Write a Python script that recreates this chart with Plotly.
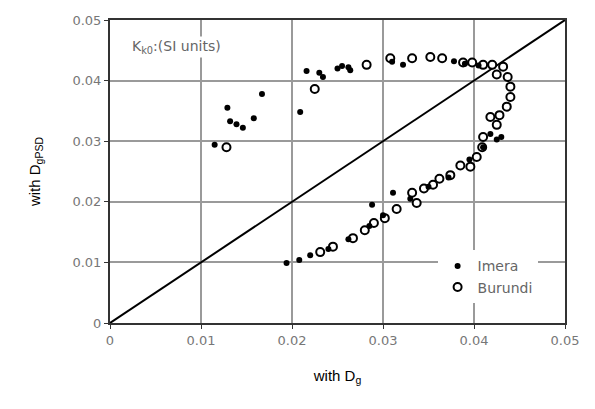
import plotly.graph_objects as go

imera_x = [0.0115, 0.0129, 0.0132, 0.0139, 0.0146, 0.0158, 0.0167, 0.0209, 0.0216, 0.0234, 0.0230,
           0.0250, 0.0255, 0.0264, 0.0262, 0.0322, 0.0310, 0.0378, 0.0390, 0.0405, 0.0430, 0.0425,
           0.0418, 0.0288, 0.0311, 0.0194, 0.0208, 0.0220, 0.0240, 0.0262, 0.0285, 0.0300, 0.0330,
           0.0350, 0.0372, 0.0395, 0.0410]
imera_y = [0.0294, 0.0355, 0.0333, 0.0328, 0.0322, 0.0338, 0.0378, 0.0348, 0.0416, 0.0406, 0.0413,
           0.0420, 0.0424, 0.0417, 0.0422, 0.0426, 0.0431, 0.0432, 0.0428, 0.0425, 0.0307, 0.0303,
           0.0312, 0.0195, 0.0215, 0.0099, 0.0104, 0.0112, 0.0122, 0.0138, 0.0160, 0.0178, 0.0205,
           0.0225, 0.0240, 0.0270, 0.0290]

burundi_x = [0.0128, 0.0225, 0.0282, 0.0308, 0.0332, 0.0352, 0.0365, 0.0388, 0.0398, 0.0410, 0.0420,
             0.0432, 0.0425, 0.0437, 0.0440, 0.0440, 0.0436, 0.0418, 0.0428, 0.0425, 0.0410, 0.0409,
             0.0403, 0.0396, 0.0385, 0.0374, 0.0362, 0.0355, 0.0345, 0.0337, 0.0332, 0.0315, 0.0302,
             0.0290, 0.0280, 0.0267, 0.0245, 0.0231]
burundi_y = [0.0290, 0.0386, 0.0426, 0.0437, 0.0437, 0.0439, 0.0437, 0.0430, 0.0430, 0.0426, 0.0426,
             0.0423, 0.0410, 0.0406, 0.0390, 0.0373, 0.0357, 0.0340, 0.0343, 0.0327, 0.0307, 0.0290,
             0.0274, 0.0258, 0.0260, 0.0244, 0.0238, 0.0228, 0.0222, 0.0198, 0.0215, 0.0188, 0.0173,
             0.0165, 0.0153, 0.0140, 0.0126, 0.0117]

line_x = [0, 0.05]
line_y = [0, 0.05]

tick_vals = [0, 0.01, 0.02, 0.03, 0.04, 0.05]
tick_text = ["0", "0.01", "0.02", "0.03", "0.04", "0.05"]

fig = go.Figure()
fig.add_trace(go.Scatter(x=line_x, y=line_y, mode="lines", line=dict(color="black", width=2),
                         showlegend=False, hoverinfo="skip"))
fig.add_trace(go.Scatter(x=burundi_x, y=burundi_y, mode="markers", name="Burundi",
                         marker=dict(symbol="circle", size=8, color="white",
                                     line=dict(color="black", width=2))))
fig.add_trace(go.Scatter(x=imera_x, y=imera_y, mode="markers", name="Imera",
                         marker=dict(symbol="circle", size=6, color="black")))

axis_common = dict(
    range=[0, 0.05], tickvals=tick_vals, ticktext=tick_text,
    showgrid=True, gridcolor="#9a9a9a", gridwidth=2,
    showline=True, linecolor="#333333", linewidth=2, mirror=True,
    ticks="outside", ticklen=4, tickcolor="#333333", tickwidth=1,
    zeroline=False,
    tickfont=dict(family="DejaVu Sans", size=13, color="#777777"),
)

fig.update_layout(
    width=595, height=409,
    margin=dict(l=110, r=30, t=20, b=86),
    paper_bgcolor="white", plot_bgcolor="white",
    xaxis=dict(**axis_common,
               title=dict(text="with D<sub>g</sub>", font=dict(family="Liberation Sans", size=15, color="black"),
                          standoff=24)),
    yaxis=dict(**axis_common,
               title=dict(text="with D<sub>gPSD</sub>", font=dict(family="Liberation Sans", size=15, color="black"),
                          standoff=28)),
    legend=dict(x=0.72, y=0.24, xanchor="left", yanchor="top", bgcolor="white",
                font=dict(family="DejaVu Sans", size=14, color="#666666"),
                traceorder="reversed", itemwidth=30, tracegroupgap=4),
    annotations=[dict(x=0.0022, y=0.0455, xref="x", yref="y", xanchor="left", yanchor="middle",
                      text="K<sub>k0</sub>:(SI units)", showarrow=False,
                      font=dict(family="DejaVu Sans", size=14, color="#666666"),
                      bgcolor="white")],
    showlegend=True,
)

fig.write_html("out.html")
